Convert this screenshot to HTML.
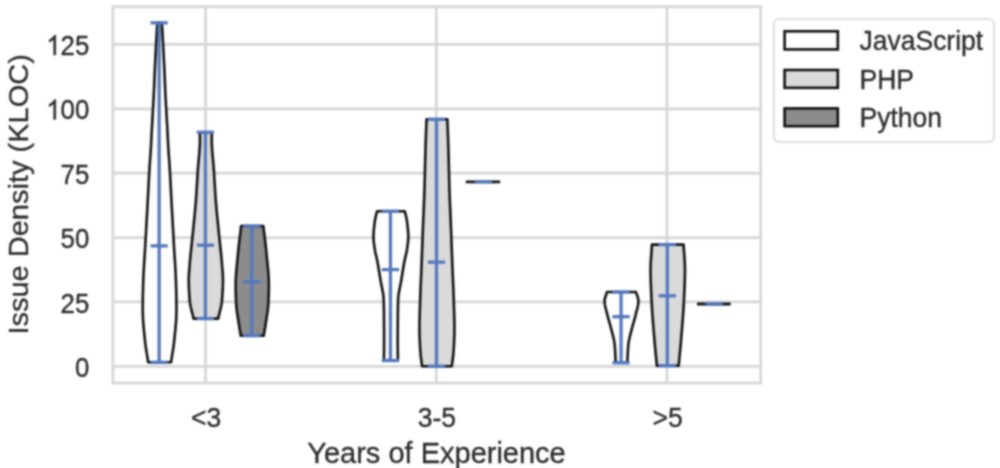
<!DOCTYPE html>
<html><head><meta charset="utf-8"><title>Violin plot</title>
<style>
html,body{margin:0;padding:0;background:#fff;}
body{width:1000px;height:468px;overflow:hidden;font-family:"Liberation Sans", sans-serif;}
svg{display:block;}
</style></head>
<body>
<svg width="1000" height="468" viewBox="0 0 1000 468">
<defs><filter id="bl" x="0" y="0" width="1000" height="468" filterUnits="userSpaceOnUse" color-interpolation-filters="sRGB"><feConvolveMatrix order="5" kernelMatrix="0.00142 0.00904 0.01675 0.00904 0.00142 0.00904 0.05757 0.10673 0.05757 0.00904 0.01675 0.10673 0.19786 0.10673 0.01675 0.00904 0.05757 0.10673 0.05757 0.00904 0.00142 0.00904 0.01675 0.00904 0.00142" edgeMode="duplicate"/></filter></defs>
<rect x="0" y="0" width="1000" height="468" fill="#ffffff"/>
<g filter="url(#bl)">
<g stroke="#d7d7d7" stroke-width="2.8"><line x1="112.9" y1="366.30" x2="760.7" y2="366.30"/><line x1="112.9" y1="301.93" x2="760.7" y2="301.93"/><line x1="112.9" y1="237.55" x2="760.7" y2="237.55"/><line x1="112.9" y1="173.18" x2="760.7" y2="173.18"/><line x1="112.9" y1="108.80" x2="760.7" y2="108.80"/><line x1="112.9" y1="44.43" x2="760.7" y2="44.43"/><line x1="205.5" y1="6.7" x2="205.5" y2="383.0"/><line x1="436.3" y1="6.7" x2="436.3" y2="383.0"/><line x1="667.0" y1="6.7" x2="667.0" y2="383.0"/></g>
<rect x="112.9" y="6.7" width="647.8000000000001" height="376.3" fill="none" stroke="#d7d7d7" stroke-width="2.8"/>
<path d="M161.80,22.80 L161.93,24.60 L162.06,26.40 L162.18,28.20 L162.30,30.00 L162.52,33.75 L162.72,37.50 L162.91,41.25 L163.10,45.00 L163.32,49.29 L163.55,53.57 L163.77,57.86 L163.99,62.14 L164.20,66.43 L164.41,70.71 L164.60,75.00 L164.75,78.75 L164.90,82.50 L165.04,86.25 L165.20,90.00 L165.41,94.44 L165.64,98.89 L165.88,103.33 L166.13,107.78 L166.39,112.22 L166.65,116.67 L166.90,121.11 L167.16,125.56 L167.40,130.00 L167.66,135.00 L167.91,140.00 L168.17,145.00 L168.45,150.00 L168.70,153.75 L168.97,157.50 L169.25,161.25 L169.50,165.00 L169.77,169.50 L170.04,174.00 L170.29,178.50 L170.53,183.00 L170.77,187.50 L171.00,192.00 L171.23,196.50 L171.47,201.00 L171.71,205.50 L171.95,210.00 L172.19,214.38 L172.43,218.75 L172.68,223.12 L172.92,227.50 L173.16,231.88 L173.41,236.25 L173.65,240.62 L173.90,245.00 L174.16,249.38 L174.44,253.75 L174.72,258.12 L175.00,262.50 L175.27,266.88 L175.51,271.25 L175.73,275.62 L175.90,280.00 L176.07,285.00 L176.21,290.00 L176.33,295.00 L176.40,300.00 L176.42,302.50 L176.43,305.00 L176.45,307.50 L176.45,310.00 L176.38,314.29 L176.20,318.57 L175.91,322.86 L175.56,327.14 L175.16,331.43 L174.73,335.71 L174.30,340.00 L173.78,344.46 L173.14,348.92 L172.43,353.38 L171.70,357.84 L171.00,362.30 L148.20,362.30 L147.50,357.84 L146.77,353.38 L146.06,348.92 L145.42,344.46 L144.90,340.00 L144.47,335.71 L144.04,331.43 L143.64,327.14 L143.29,322.86 L143.00,318.57 L142.82,314.29 L142.75,310.00 L142.75,307.50 L142.77,305.00 L142.78,302.50 L142.80,300.00 L142.87,295.00 L142.99,290.00 L143.13,285.00 L143.30,280.00 L143.47,275.62 L143.69,271.25 L143.93,266.88 L144.20,262.50 L144.48,258.12 L144.76,253.75 L145.04,249.38 L145.30,245.00 L145.55,240.62 L145.79,236.25 L146.04,231.88 L146.28,227.50 L146.52,223.12 L146.77,218.75 L147.01,214.38 L147.25,210.00 L147.49,205.50 L147.73,201.00 L147.97,196.50 L148.20,192.00 L148.43,187.50 L148.67,183.00 L148.91,178.50 L149.16,174.00 L149.43,169.50 L149.70,165.00 L149.95,161.25 L150.23,157.50 L150.50,153.75 L150.75,150.00 L151.03,145.00 L151.29,140.00 L151.54,135.00 L151.80,130.00 L152.04,125.56 L152.30,121.11 L152.55,116.67 L152.81,112.22 L153.07,107.78 L153.32,103.33 L153.56,98.89 L153.79,94.44 L154.00,90.00 L154.16,86.25 L154.30,82.50 L154.45,78.75 L154.60,75.00 L154.79,70.71 L155.00,66.43 L155.21,62.14 L155.43,57.86 L155.65,53.57 L155.88,49.29 L156.10,45.00 L156.29,41.25 L156.48,37.50 L156.68,33.75 L156.90,30.00 L157.02,28.20 L157.14,26.40 L157.27,24.60 L157.40,22.80 Z" fill="#ffffff" stroke="#111111" stroke-width="2.6" stroke-linejoin="round"/><path d="M211.85,132.20 L211.82,134.15 L211.79,136.10 L211.76,138.05 L211.75,140.00 L211.78,142.50 L211.86,145.00 L211.98,147.50 L212.15,150.00 L212.34,152.50 L212.55,155.00 L212.78,157.50 L213.01,160.00 L213.24,162.50 L213.46,165.00 L213.67,167.50 L213.85,170.00 L214.01,172.50 L214.17,175.00 L214.32,177.50 L214.47,180.00 L214.62,182.50 L214.77,185.00 L214.92,187.50 L215.07,190.00 L215.23,192.50 L215.39,195.00 L215.57,197.50 L215.75,200.00 L215.93,202.33 L216.12,204.67 L216.32,207.00 L216.53,209.33 L216.74,211.67 L216.97,214.00 L217.19,216.33 L217.42,218.67 L217.65,221.00 L217.89,223.33 L218.12,225.67 L218.36,228.00 L218.59,230.33 L218.82,232.67 L219.05,235.00 L219.30,237.50 L219.56,240.00 L219.83,242.50 L220.10,245.00 L220.37,247.50 L220.64,250.00 L220.91,252.50 L221.16,255.00 L221.41,257.50 L221.64,260.00 L221.86,262.50 L222.05,265.00 L222.24,267.50 L222.45,270.00 L222.64,272.50 L222.80,275.00 L222.91,277.50 L222.95,280.00 L222.93,282.50 L222.88,285.00 L222.80,287.50 L222.69,290.00 L222.55,292.50 L222.40,295.00 L222.23,297.50 L222.05,300.00 L221.76,302.66 L221.30,305.31 L220.73,307.97 L220.08,310.63 L219.41,313.29 L218.75,315.94 L218.15,318.60 L193.55,318.60 L192.95,315.94 L192.29,313.29 L191.62,310.63 L190.97,307.97 L190.40,305.31 L189.94,302.66 L189.65,300.00 L189.47,297.50 L189.30,295.00 L189.15,292.50 L189.01,290.00 L188.90,287.50 L188.82,285.00 L188.77,282.50 L188.75,280.00 L188.79,277.50 L188.90,275.00 L189.06,272.50 L189.25,270.00 L189.46,267.50 L189.65,265.00 L189.84,262.50 L190.06,260.00 L190.29,257.50 L190.54,255.00 L190.79,252.50 L191.06,250.00 L191.33,247.50 L191.60,245.00 L191.87,242.50 L192.14,240.00 L192.40,237.50 L192.65,235.00 L192.88,232.67 L193.11,230.33 L193.34,228.00 L193.58,225.67 L193.81,223.33 L194.05,221.00 L194.28,218.67 L194.51,216.33 L194.73,214.00 L194.96,211.67 L195.17,209.33 L195.38,207.00 L195.58,204.67 L195.77,202.33 L195.95,200.00 L196.13,197.50 L196.31,195.00 L196.47,192.50 L196.63,190.00 L196.78,187.50 L196.93,185.00 L197.08,182.50 L197.23,180.00 L197.38,177.50 L197.53,175.00 L197.69,172.50 L197.85,170.00 L198.03,167.50 L198.24,165.00 L198.46,162.50 L198.69,160.00 L198.92,157.50 L199.15,155.00 L199.36,152.50 L199.55,150.00 L199.72,147.50 L199.84,145.00 L199.92,142.50 L199.95,140.00 L199.94,138.05 L199.91,136.10 L199.88,134.15 L199.85,132.20 Z" fill="#dadada" stroke="#111111" stroke-width="2.6" stroke-linejoin="round"/><path d="M263.35,226.00 L263.51,227.38 L263.67,228.76 L263.83,230.14 L264.00,231.52 L264.17,232.90 L264.33,234.29 L264.50,235.67 L264.67,237.05 L264.84,238.43 L265.01,239.81 L265.17,241.19 L265.34,242.57 L265.50,243.95 L265.66,245.33 L265.81,246.71 L265.96,248.10 L266.11,249.48 L266.25,250.86 L266.39,252.24 L266.52,253.62 L266.65,255.00 L266.78,256.43 L266.91,257.86 L267.05,259.29 L267.19,260.71 L267.34,262.14 L267.48,263.57 L267.62,265.00 L267.76,266.43 L267.89,267.86 L268.02,269.29 L268.15,270.71 L268.27,272.14 L268.38,273.57 L268.48,275.00 L268.57,276.43 L268.65,277.86 L268.72,279.29 L268.77,280.71 L268.82,282.14 L268.84,283.57 L268.85,285.00 L268.85,286.43 L268.83,287.86 L268.82,289.29 L268.79,290.71 L268.76,292.14 L268.72,293.57 L268.68,295.00 L268.63,296.43 L268.57,297.86 L268.52,299.29 L268.45,300.71 L268.39,302.14 L268.32,303.57 L268.25,305.00 L268.15,306.50 L268.01,308.00 L267.84,309.50 L267.65,311.00 L267.43,312.50 L267.19,314.00 L266.95,315.50 L266.71,317.00 L266.48,318.50 L266.25,320.00 L266.04,321.43 L265.82,322.85 L265.60,324.28 L265.37,325.71 L265.14,327.14 L264.91,328.56 L264.68,329.99 L264.44,331.42 L264.21,332.85 L263.98,334.27 L263.75,335.70 L240.75,335.70 L240.52,334.27 L240.29,332.85 L240.06,331.42 L239.82,329.99 L239.59,328.56 L239.36,327.14 L239.13,325.71 L238.90,324.28 L238.68,322.85 L238.46,321.43 L238.25,320.00 L238.02,318.50 L237.79,317.00 L237.55,315.50 L237.31,314.00 L237.07,312.50 L236.85,311.00 L236.66,309.50 L236.49,308.00 L236.35,306.50 L236.25,305.00 L236.18,303.57 L236.11,302.14 L236.05,300.71 L235.98,299.29 L235.93,297.86 L235.87,296.43 L235.82,295.00 L235.78,293.57 L235.74,292.14 L235.71,290.71 L235.68,289.29 L235.67,287.86 L235.65,286.43 L235.65,285.00 L235.66,283.57 L235.68,282.14 L235.73,280.71 L235.78,279.29 L235.85,277.86 L235.93,276.43 L236.02,275.00 L236.12,273.57 L236.23,272.14 L236.35,270.71 L236.48,269.29 L236.61,267.86 L236.74,266.43 L236.88,265.00 L237.02,263.57 L237.16,262.14 L237.31,260.71 L237.45,259.29 L237.59,257.86 L237.72,256.43 L237.85,255.00 L237.98,253.62 L238.11,252.24 L238.25,250.86 L238.39,249.48 L238.54,248.10 L238.69,246.71 L238.84,245.33 L239.00,243.95 L239.16,242.57 L239.33,241.19 L239.49,239.81 L239.66,238.43 L239.83,237.05 L240.00,235.67 L240.17,234.29 L240.33,232.90 L240.50,231.52 L240.67,230.14 L240.83,228.76 L240.99,227.38 L241.15,226.00 Z" fill="#8c8c8c" stroke="#111111" stroke-width="2.6" stroke-linejoin="round"/><path d="M404.70,211.20 L405.27,213.40 L405.86,215.60 L406.40,217.80 L406.80,220.00 L407.05,221.89 L407.30,223.78 L407.53,225.67 L407.74,227.56 L407.93,229.44 L408.08,231.33 L408.20,233.22 L408.27,235.11 L408.30,237.00 L408.24,239.17 L408.08,241.33 L407.84,243.50 L407.55,245.67 L407.22,247.83 L406.90,250.00 L406.55,252.00 L406.10,254.00 L405.61,256.00 L405.13,258.00 L404.70,260.00 L404.32,262.00 L403.95,264.00 L403.60,266.00 L403.26,268.00 L402.93,270.00 L402.60,272.00 L402.27,274.00 L401.95,276.00 L401.63,278.00 L401.30,280.00 L400.95,282.00 L400.56,284.00 L400.16,286.00 L399.75,288.00 L399.36,290.00 L398.99,292.00 L398.66,294.00 L398.40,296.00 L398.20,298.00 L398.10,300.00 L398.05,302.00 L398.00,304.00 L397.96,306.00 L397.93,308.00 L397.90,310.00 L397.87,312.00 L397.85,314.00 L397.83,316.00 L397.82,318.00 L397.80,320.00 L397.79,322.00 L397.77,324.00 L397.76,326.00 L397.74,328.00 L397.73,330.00 L397.72,332.00 L397.71,334.00 L397.71,336.00 L397.70,338.00 L397.70,340.00 L397.70,342.05 L397.71,344.10 L397.73,346.15 L397.75,348.20 L397.77,350.25 L397.80,352.30 L397.83,354.35 L397.85,356.40 L397.88,358.45 L397.90,360.50 L383.90,360.50 L383.92,358.45 L383.95,356.40 L383.97,354.35 L384.00,352.30 L384.02,350.25 L384.05,348.20 L384.07,346.15 L384.09,344.10 L384.10,342.05 L384.10,340.00 L384.10,338.00 L384.09,336.00 L384.09,334.00 L384.08,332.00 L384.07,330.00 L384.06,328.00 L384.04,326.00 L384.03,324.00 L384.01,322.00 L384.00,320.00 L383.98,318.00 L383.97,316.00 L383.95,314.00 L383.93,312.00 L383.90,310.00 L383.87,308.00 L383.84,306.00 L383.80,304.00 L383.75,302.00 L383.70,300.00 L383.60,298.00 L383.40,296.00 L383.14,294.00 L382.81,292.00 L382.44,290.00 L382.05,288.00 L381.64,286.00 L381.24,284.00 L380.85,282.00 L380.50,280.00 L380.17,278.00 L379.85,276.00 L379.53,274.00 L379.20,272.00 L378.87,270.00 L378.54,268.00 L378.20,266.00 L377.85,264.00 L377.48,262.00 L377.10,260.00 L376.67,258.00 L376.19,256.00 L375.70,254.00 L375.25,252.00 L374.90,250.00 L374.58,247.83 L374.25,245.67 L373.96,243.50 L373.72,241.33 L373.56,239.17 L373.50,237.00 L373.53,235.11 L373.60,233.22 L373.72,231.33 L373.87,229.44 L374.06,227.56 L374.27,225.67 L374.50,223.78 L374.75,221.89 L375.00,220.00 L375.40,217.80 L375.94,215.60 L376.53,213.40 L377.10,211.20 Z" fill="#ffffff" stroke="#111111" stroke-width="2.6" stroke-linejoin="round"/><path d="M447.35,119.20 L447.47,122.62 L447.60,126.04 L447.73,129.47 L447.86,132.89 L447.99,136.31 L448.11,139.73 L448.23,143.16 L448.34,146.58 L448.45,150.00 L448.54,153.33 L448.63,156.67 L448.71,160.00 L448.79,163.33 L448.87,166.67 L448.94,170.00 L449.02,173.33 L449.10,176.67 L449.18,180.00 L449.26,183.33 L449.35,186.67 L449.45,190.00 L449.55,193.18 L449.67,196.36 L449.79,199.55 L449.92,202.73 L450.05,205.91 L450.18,209.09 L450.32,212.27 L450.46,215.45 L450.59,218.64 L450.72,221.82 L450.85,225.00 L450.98,228.33 L451.10,231.67 L451.23,235.00 L451.35,238.33 L451.48,241.67 L451.60,245.00 L451.72,248.33 L451.85,251.67 L451.97,255.00 L452.10,258.33 L452.22,261.67 L452.35,265.00 L452.48,268.18 L452.61,271.36 L452.75,274.55 L452.88,277.73 L453.02,280.91 L453.16,284.09 L453.29,287.27 L453.42,290.45 L453.54,293.64 L453.65,296.82 L453.75,300.00 L453.85,303.33 L453.96,306.67 L454.06,310.00 L454.16,313.33 L454.25,316.67 L454.33,320.00 L454.40,323.33 L454.44,326.67 L454.45,330.00 L454.40,333.75 L454.29,337.50 L454.13,341.25 L453.95,345.00 L453.80,347.75 L453.62,350.50 L453.40,353.25 L453.15,356.00 L452.86,358.55 L452.50,361.10 L452.12,363.65 L451.75,366.20 L422.15,366.20 L421.78,363.65 L421.40,361.10 L421.04,358.55 L420.75,356.00 L420.50,353.25 L420.28,350.50 L420.10,347.75 L419.95,345.00 L419.77,341.25 L419.61,337.50 L419.50,333.75 L419.45,330.00 L419.46,326.67 L419.50,323.33 L419.57,320.00 L419.65,316.67 L419.74,313.33 L419.84,310.00 L419.94,306.67 L420.05,303.33 L420.15,300.00 L420.25,296.82 L420.36,293.64 L420.48,290.45 L420.61,287.27 L420.74,284.09 L420.88,280.91 L421.02,277.73 L421.15,274.55 L421.29,271.36 L421.42,268.18 L421.55,265.00 L421.68,261.67 L421.80,258.33 L421.93,255.00 L422.05,251.67 L422.18,248.33 L422.30,245.00 L422.42,241.67 L422.55,238.33 L422.67,235.00 L422.80,231.67 L422.92,228.33 L423.05,225.00 L423.18,221.82 L423.31,218.64 L423.44,215.45 L423.58,212.27 L423.72,209.09 L423.85,205.91 L423.98,202.73 L424.11,199.55 L424.23,196.36 L424.35,193.18 L424.45,190.00 L424.55,186.67 L424.64,183.33 L424.72,180.00 L424.80,176.67 L424.88,173.33 L424.96,170.00 L425.03,166.67 L425.11,163.33 L425.19,160.00 L425.27,156.67 L425.36,153.33 L425.45,150.00 L425.56,146.58 L425.67,143.16 L425.79,139.73 L425.91,136.31 L426.04,132.89 L426.17,129.47 L426.30,126.04 L426.43,122.62 L426.55,119.20 Z" fill="#dadada" stroke="#111111" stroke-width="2.6" stroke-linejoin="round"/><path d="M636.00,292.00 L636.26,292.90 L636.56,293.80 L636.87,294.70 L637.19,295.60 L637.50,296.50 L637.79,297.40 L638.03,298.30 L638.23,299.20 L638.35,300.10 L638.40,301.00 L638.38,301.93 L638.31,302.87 L638.21,303.80 L638.08,304.73 L637.91,305.67 L637.72,306.60 L637.51,307.53 L637.29,308.47 L637.05,309.40 L636.80,310.33 L636.55,311.27 L636.30,312.20 L636.06,313.13 L635.82,314.07 L635.60,315.00 L635.38,315.94 L635.14,316.88 L634.90,317.81 L634.64,318.75 L634.38,319.69 L634.11,320.62 L633.84,321.56 L633.57,322.50 L633.29,323.44 L633.02,324.38 L632.75,325.31 L632.48,326.25 L632.22,327.19 L631.97,328.12 L631.73,329.06 L631.50,330.00 L631.27,330.94 L631.04,331.88 L630.80,332.81 L630.56,333.75 L630.32,334.69 L630.08,335.62 L629.85,336.56 L629.62,337.50 L629.40,338.44 L629.20,339.38 L629.00,340.31 L628.82,341.25 L628.66,342.19 L628.52,343.12 L628.40,344.06 L628.30,345.00 L628.22,345.89 L628.15,346.78 L628.08,347.67 L628.02,348.56 L627.96,349.45 L627.91,350.34 L627.86,351.23 L627.81,352.12 L627.77,353.01 L627.72,353.90 L627.68,354.79 L627.64,355.68 L627.60,356.57 L627.56,357.46 L627.52,358.35 L627.48,359.24 L627.44,360.13 L627.39,361.02 L627.35,361.91 L627.30,362.80 L615.70,362.80 L615.65,361.91 L615.61,361.02 L615.56,360.13 L615.52,359.24 L615.48,358.35 L615.44,357.46 L615.40,356.57 L615.36,355.68 L615.32,354.79 L615.28,353.90 L615.23,353.01 L615.19,352.12 L615.14,351.23 L615.09,350.34 L615.04,349.45 L614.98,348.56 L614.92,347.67 L614.85,346.78 L614.78,345.89 L614.70,345.00 L614.60,344.06 L614.48,343.12 L614.34,342.19 L614.18,341.25 L614.00,340.31 L613.80,339.38 L613.60,338.44 L613.38,337.50 L613.15,336.56 L612.92,335.62 L612.68,334.69 L612.44,333.75 L612.20,332.81 L611.96,331.88 L611.73,330.94 L611.50,330.00 L611.27,329.06 L611.03,328.12 L610.78,327.19 L610.52,326.25 L610.25,325.31 L609.98,324.38 L609.71,323.44 L609.43,322.50 L609.16,321.56 L608.89,320.62 L608.62,319.69 L608.36,318.75 L608.10,317.81 L607.86,316.88 L607.62,315.94 L607.40,315.00 L607.18,314.07 L606.94,313.13 L606.70,312.20 L606.45,311.27 L606.20,310.33 L605.95,309.40 L605.71,308.47 L605.49,307.53 L605.28,306.60 L605.09,305.67 L604.92,304.73 L604.79,303.80 L604.69,302.87 L604.62,301.93 L604.60,301.00 L604.65,300.10 L604.77,299.20 L604.97,298.30 L605.21,297.40 L605.50,296.50 L605.81,295.60 L606.13,294.70 L606.44,293.80 L606.74,292.90 L607.00,292.00 Z" fill="#ffffff" stroke="#111111" stroke-width="2.6" stroke-linejoin="round"/><path d="M683.55,244.60 L683.64,246.19 L683.74,247.78 L683.85,249.36 L683.97,250.95 L684.08,252.54 L684.20,254.12 L684.31,255.71 L684.42,257.30 L684.53,258.89 L684.63,260.48 L684.72,262.06 L684.80,263.65 L684.86,265.24 L684.91,266.82 L684.94,268.41 L684.95,270.00 L684.95,271.58 L684.93,273.16 L684.91,274.74 L684.88,276.32 L684.85,277.89 L684.81,279.47 L684.76,281.05 L684.71,282.63 L684.65,284.21 L684.59,285.79 L684.52,287.37 L684.46,288.95 L684.39,290.53 L684.31,292.11 L684.24,293.68 L684.17,295.26 L684.09,296.84 L684.02,298.42 L683.95,300.00 L683.88,301.54 L683.80,303.08 L683.72,304.62 L683.63,306.15 L683.54,307.69 L683.45,309.23 L683.35,310.77 L683.25,312.31 L683.14,313.85 L683.03,315.38 L682.92,316.92 L682.80,318.46 L682.69,320.00 L682.57,321.54 L682.45,323.08 L682.32,324.62 L682.20,326.15 L682.07,327.69 L681.95,329.23 L681.82,330.77 L681.69,332.31 L681.56,333.85 L681.43,335.38 L681.30,336.92 L681.18,338.46 L681.05,340.00 L680.92,341.52 L680.79,343.04 L680.66,344.55 L680.52,346.07 L680.38,347.59 L680.24,349.11 L680.10,350.62 L679.96,352.14 L679.81,353.66 L679.67,355.18 L679.52,356.69 L679.37,358.21 L679.23,359.73 L679.08,361.25 L678.94,362.76 L678.79,364.28 L678.65,365.80 L656.85,365.80 L656.71,364.28 L656.56,362.76 L656.42,361.25 L656.27,359.73 L656.13,358.21 L655.98,356.69 L655.83,355.18 L655.69,353.66 L655.54,352.14 L655.40,350.62 L655.26,349.11 L655.12,347.59 L654.98,346.07 L654.84,344.55 L654.71,343.04 L654.58,341.52 L654.45,340.00 L654.32,338.46 L654.20,336.92 L654.07,335.38 L653.94,333.85 L653.81,332.31 L653.68,330.77 L653.55,329.23 L653.43,327.69 L653.30,326.15 L653.18,324.62 L653.05,323.08 L652.93,321.54 L652.81,320.00 L652.70,318.46 L652.58,316.92 L652.47,315.38 L652.36,313.85 L652.25,312.31 L652.15,310.77 L652.05,309.23 L651.96,307.69 L651.87,306.15 L651.78,304.62 L651.70,303.08 L651.62,301.54 L651.55,300.00 L651.48,298.42 L651.41,296.84 L651.33,295.26 L651.26,293.68 L651.19,292.11 L651.11,290.53 L651.04,288.95 L650.98,287.37 L650.91,285.79 L650.85,284.21 L650.79,282.63 L650.74,281.05 L650.69,279.47 L650.65,277.89 L650.62,276.32 L650.59,274.74 L650.57,273.16 L650.55,271.58 L650.55,270.00 L650.56,268.41 L650.59,266.82 L650.64,265.24 L650.70,263.65 L650.78,262.06 L650.87,260.48 L650.97,258.89 L651.08,257.30 L651.19,255.71 L651.30,254.12 L651.42,252.54 L651.53,250.95 L651.65,249.36 L651.76,247.78 L651.86,246.19 L651.95,244.60 Z" fill="#dadada" stroke="#111111" stroke-width="2.6" stroke-linejoin="round"/><line x1="465.80" y1="181.8" x2="500.20" y2="181.8" stroke="#111111" stroke-width="2.8000000000000003" stroke-linecap="butt"/><line x1="697.05" y1="304.0" x2="730.65" y2="304.0" stroke="#111111" stroke-width="2.8000000000000003" stroke-linecap="butt"/>
<g stroke="#5478bd" stroke-width="3.3"><line x1="159.15" y1="22.80" x2="159.15" y2="362.30"/><line x1="150.55" y1="22.80" x2="167.75" y2="22.80"/><line x1="150.55" y1="362.30" x2="167.75" y2="362.30"/><line x1="150.55" y1="245.90" x2="167.75" y2="245.90"/><line x1="205.40" y1="132.20" x2="205.40" y2="318.60"/><line x1="196.80" y1="132.20" x2="214.00" y2="132.20"/><line x1="196.80" y1="318.60" x2="214.00" y2="318.60"/><line x1="196.80" y1="245.20" x2="214.00" y2="245.20"/><line x1="251.80" y1="226.00" x2="251.80" y2="335.70"/><line x1="243.20" y1="226.00" x2="260.40" y2="226.00"/><line x1="243.20" y1="335.70" x2="260.40" y2="335.70"/><line x1="243.20" y1="281.60" x2="260.40" y2="281.60"/><line x1="390.45" y1="211.20" x2="390.45" y2="360.50"/><line x1="381.85" y1="211.20" x2="399.05" y2="211.20"/><line x1="381.85" y1="360.50" x2="399.05" y2="360.50"/><line x1="381.85" y1="269.60" x2="399.05" y2="269.60"/><line x1="436.50" y1="119.20" x2="436.50" y2="366.20"/><line x1="427.90" y1="119.20" x2="445.10" y2="119.20"/><line x1="427.90" y1="366.20" x2="445.10" y2="366.20"/><line x1="427.90" y1="262.20" x2="445.10" y2="262.20"/><line x1="621.05" y1="292.00" x2="621.05" y2="362.80"/><line x1="612.45" y1="292.00" x2="629.65" y2="292.00"/><line x1="612.45" y1="362.80" x2="629.65" y2="362.80"/><line x1="612.45" y1="316.70" x2="629.65" y2="316.70"/><line x1="667.30" y1="244.60" x2="667.30" y2="365.80"/><line x1="658.70" y1="244.60" x2="675.90" y2="244.60"/><line x1="658.70" y1="365.80" x2="675.90" y2="365.80"/><line x1="658.70" y1="295.80" x2="675.90" y2="295.80"/><line x1="474.70" y1="181.8" x2="491.90" y2="181.8"/><line x1="705.55" y1="304.0" x2="722.75" y2="304.0"/></g>
<text transform="translate(89.30,376.99) scale(1,1.0887596899224805)" x="0" y="0" text-anchor="end" font-size="25.8" font-family="Liberation Sans, sans-serif" fill="#2a2a2a" stroke="#2a2a2a" stroke-width="0.3" stroke-linejoin="round">0</text><text transform="translate(89.30,312.62) scale(1,1.0887596899224805)" x="0" y="0" text-anchor="end" font-size="25.8" font-family="Liberation Sans, sans-serif" fill="#2a2a2a" stroke="#2a2a2a" stroke-width="0.3" stroke-linejoin="round">25</text><text transform="translate(89.30,248.24) scale(1,1.0887596899224805)" x="0" y="0" text-anchor="end" font-size="25.8" font-family="Liberation Sans, sans-serif" fill="#2a2a2a" stroke="#2a2a2a" stroke-width="0.3" stroke-linejoin="round">50</text><text transform="translate(89.30,183.87) scale(1,1.0887596899224805)" x="0" y="0" text-anchor="end" font-size="25.8" font-family="Liberation Sans, sans-serif" fill="#2a2a2a" stroke="#2a2a2a" stroke-width="0.3" stroke-linejoin="round">75</text><path transform="translate(46.25,119.49) scale(0.01260,-0.01372)" d="M 763 0 L 583 0 L 583 1147 C 540 1106 483 1064 413 1023 C 342 982 279 951 223 930 L 223 1104 C 324 1151 412 1209 487 1276 C 562 1343 616 1407 647 1466 L 763 1466 Z" fill="#2a2a2a" stroke="#2a2a2a" stroke-width="23.8" stroke-linejoin="round"/><text transform="translate(89.30,119.49) scale(1,1.0887596899224805)" x="0" y="0" text-anchor="end" font-size="25.8" font-family="Liberation Sans, sans-serif" fill="#2a2a2a" stroke="#2a2a2a" stroke-width="0.3" stroke-linejoin="round">00</text><path transform="translate(46.25,55.12) scale(0.01260,-0.01372)" d="M 763 0 L 583 0 L 583 1147 C 540 1106 483 1064 413 1023 C 342 982 279 951 223 930 L 223 1104 C 324 1151 412 1209 487 1276 C 562 1343 616 1407 647 1466 L 763 1466 Z" fill="#2a2a2a" stroke="#2a2a2a" stroke-width="23.8" stroke-linejoin="round"/><text transform="translate(89.30,55.12) scale(1,1.0887596899224805)" x="0" y="0" text-anchor="end" font-size="25.8" font-family="Liberation Sans, sans-serif" fill="#2a2a2a" stroke="#2a2a2a" stroke-width="0.3" stroke-linejoin="round">25</text><text transform="translate(206.10,427.00) scale(1,1.06)" x="0" y="0" text-anchor="middle" font-size="26.5" font-family="Liberation Sans, sans-serif" fill="#2a2a2a" stroke="#2a2a2a" stroke-width="0.3" stroke-linejoin="round">&lt;3</text><text transform="translate(436.90,427.00) scale(1,1.06)" x="0" y="0" text-anchor="middle" font-size="26.5" font-family="Liberation Sans, sans-serif" fill="#2a2a2a" stroke="#2a2a2a" stroke-width="0.3" stroke-linejoin="round">3-5</text><text transform="translate(667.60,427.00) scale(1,1.06)" x="0" y="0" text-anchor="middle" font-size="26.5" font-family="Liberation Sans, sans-serif" fill="#2a2a2a" stroke="#2a2a2a" stroke-width="0.3" stroke-linejoin="round">&gt;5</text><text transform="translate(436.50,462.50)" x="0" y="0" text-anchor="middle" font-size="29" font-family="Liberation Sans, sans-serif" fill="#2a2a2a" stroke="#2a2a2a" stroke-width="0.3" stroke-linejoin="round">Years of Experience</text><text transform="translate(28.00,194.40) rotate(-90) scale(1,0.9433962264150942)" x="0" y="0" text-anchor="middle" font-size="29" font-family="Liberation Sans, sans-serif" fill="#2a2a2a" stroke="#2a2a2a" stroke-width="0.3" stroke-linejoin="round">Issue Density (KLOC)</text>
<rect x="773.9" y="19.0" width="220.1" height="123.0" rx="5" ry="5" fill="#ffffff" stroke="#dedede" stroke-width="2.0"/>
<rect x="784.6" y="31.30" width="53.2" height="18.10" fill="#ffffff" stroke="#111111" stroke-width="2.6"/>
<text transform="translate(859.50,50.20) scale(1,1.06)" x="0" y="0" text-anchor="start" font-size="26.5" font-family="Liberation Sans, sans-serif" fill="#2a2a2a" stroke="#2a2a2a" stroke-width="0.3" stroke-linejoin="round">JavaScript</text>
<rect x="784.6" y="70.00" width="53.2" height="17.80" fill="#dadada" stroke="#111111" stroke-width="2.6"/>
<text transform="translate(859.50,88.60) scale(1,1.06)" x="0" y="0" text-anchor="start" font-size="26.5" font-family="Liberation Sans, sans-serif" fill="#2a2a2a" stroke="#2a2a2a" stroke-width="0.3" stroke-linejoin="round">PHP</text>
<rect x="784.6" y="108.40" width="53.2" height="17.80" fill="#8c8c8c" stroke="#111111" stroke-width="2.6"/>
<text transform="translate(859.50,127.00) scale(1,1.06)" x="0" y="0" text-anchor="start" font-size="26.5" font-family="Liberation Sans, sans-serif" fill="#2a2a2a" stroke="#2a2a2a" stroke-width="0.3" stroke-linejoin="round">Python</text>
</g>
</svg>
</body></html>
